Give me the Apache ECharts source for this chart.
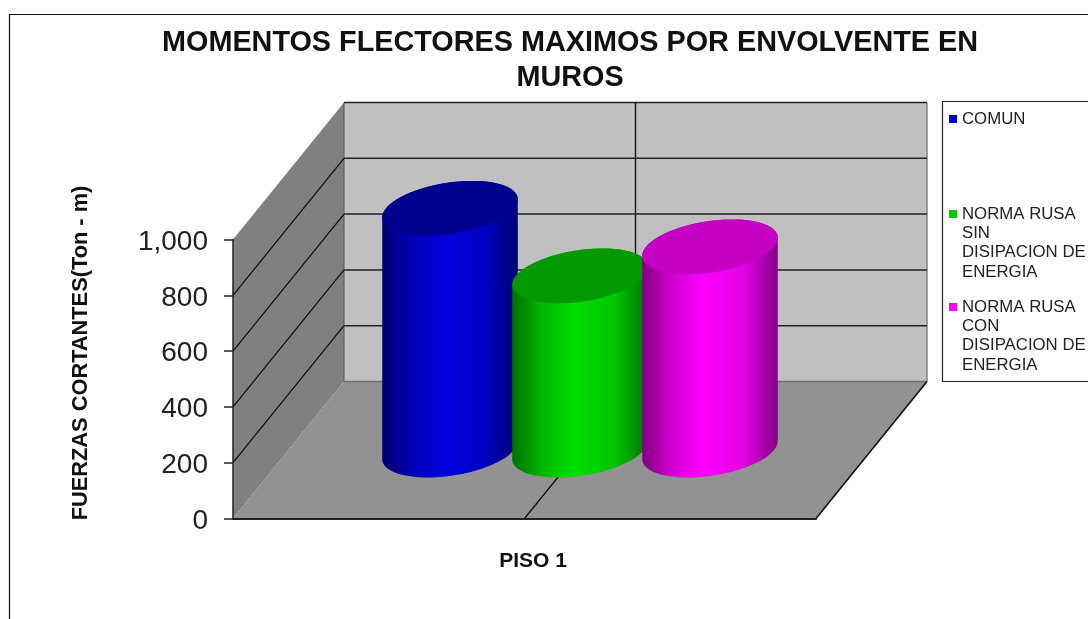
<!DOCTYPE html>
<html>
<head>
<meta charset="utf-8">
<style>html,body{margin:0;padding:0;background:#fff}#c{width:1088px;height:619px}</style>
<script src="https://cdn.jsdelivr.net/npm/echarts@6/dist/echarts.min.js"></script>
</head>
<body>
<div id="c"></div>
<script>
const categories = ['PISO 1'];
const yTicks = [0, 200, 400, 600, 800, 1000];
const comun = [866];
const sinDisipacion = [624];
const conDisipacion = [728];
const titleText = 'MOMENTOS FLECTORES MAXIMOS POR ENVOLVENTE EN\nMUROS';
const yAxisTitle = 'FUERZAS CORTANTES(Ton - m)';
const nameComun = 'COMUN';
const nameSin = 'NORMA RUSA\nSIN\nDISIPACION DE\nENERGIA';
const nameCon = 'NORMA RUSA\nCON\nDISIPACION DE\nENERGIA';

const FONT = '"Liberation Sans", Arial, sans-serif';
const DX = 111, DY = -137;           // depth of the 3D box
const CYL_A = 64, CYL_SX = 22.3, CYL_SY = 27.5, CYL_STEP = 130;

function renderWalls(params, api) {
  const cs = params.coordSys;
  const xL = cs.x, xR = cs.x + cs.width, xM = cs.x + cs.width / 2;
  const y0 = api.coord([0, yTicks[0]])[1];
  const yT = api.coord([0, yTicks[yTicks.length - 1]])[1];
  const kids = [];
  const poly = (pts, fill) => kids.push({type:'polygon', shape:{points:pts}, style:{fill:fill}});
  const line = (x1,y1,x2,y2,c,w) => kids.push({type:'line', shape:{x1,y1,x2,y2}, style:{stroke:c, lineWidth:w||1.3}});
  poly([[xL+DX,yT+DY],[xR+DX,yT+DY],[xR+DX,y0+DY],[xL+DX,y0+DY]], '#C0C0C0');
  poly([[xL,yT],[xL+DX,yT+DY],[xL+DX,y0+DY],[xL,y0]], '#808080');
  poly([[xL,y0],[xL+DX,y0+DY],[xR+DX,y0+DY],[xR,y0]], '#929292');
  line(xL+DX,yT+DY,xL+DX,y0+DY,'#555',1);
  line(xR+DX,yT+DY,xR+DX,y0+DY,'#808080',1.5);
  line(xL+DX,y0+DY,xR+DX,y0+DY,'#707070',1.5);
  line(xM+DX,yT+DY,xM+DX,y0+DY,'#111',1.4);
  line(xM,y0,xM+DX,y0+DY,'#111',1.3);
  line(xR,y0,xR+DX,y0+DY,'#111',1.6);
  yTicks.forEach(function(t){
    if (t === 0) return;
    const y = api.coord([0,t])[1];
    if (t !== yTicks[yTicks.length-1]) line(xL,y,xL+DX,y+DY,'#111',1.3);
    line(xL+DX,y+DY,xR+DX,y+DY,'#222',1.5);
  });
  return {type:'group', children:kids};
}

function shade(rgb, k){ return 'rgb(' + rgb.map(v=>Math.round(v*k)).join(',') + ')'; }

function makeCylinder(idx, body, top) {
  return function(params, api) {
    const base = api.coord([api.value(0), 0]);
    const head = api.coord([api.value(0), api.value(1)]);
    const cx = base[0] + DX/2 + (idx-1)*CYL_STEP;
    const by = base[1] + DY/2, ty = head[1] + DY/2;
    const tExt = Math.atan2(CYL_SX, CYL_A);
    const ext = Math.hypot(CYL_A, CYL_SX);
    const pt = (t, y) => [cx + CYL_A*Math.cos(t) + CYL_SX*Math.sin(t), y - CYL_SY*Math.sin(t)];
    const N = 48, bodyPts = [], topPts = [];
    for (let i=0;i<=N;i++){ const t = tExt - Math.PI*i/N; bodyPts.push(pt(t, by)); }
    for (let i=0;i<=N;i++){ const t = tExt - Math.PI - Math.PI*i/N; bodyPts.push(pt(t, ty)); }
    for (let i=0;i<2*N;i++){ topPts.push(pt(Math.PI*i/N, ty)); }
    const grad = new echarts.graphic.LinearGradient(cx-ext,0,cx+ext,0,[
      {offset:0, color:shade(body,.5)},{offset:.2, color:shade(body,.8)},
      {offset:.46, color:shade(body,1)},{offset:.76, color:shade(body,.88)},
      {offset:1, color:shade(body,.52)}], true);
    return {type:'group', children:[
      {type:'polygon', shape:{points:bodyPts}, style:{fill:grad}},
      {type:'polygon', shape:{points:topPts}, style:{fill:top}}
    ]};
  };
}

const LEGEND_LH = 19.3;
function legendAt(name, color, firstLineY, lines) {
  // the icon is centred on the text block: blank lines above keep it on the first line
  const blanks = lines - 1;
  return {data:[{name:name, itemStyle:{color:color}}], left:949,
    top:firstLineY - (blanks + 0.5) * LEGEND_LH, padding:0, orient:'vertical',
    icon:'rect', itemWidth:8, itemHeight:8, itemGap:0, selectedMode:false,
    formatter:function(n){ return '\n'.repeat(blanks) + n; },
    textStyle:{fontFamily:FONT, fontSize:16.8, color:'#222', lineHeight:LEGEND_LH}};
}

const chart = echarts.init(document.getElementById('c'), null, {renderer:'canvas'});
chart.setOption({
  animation:false,
  backgroundColor:'#fff',
  title:{text:titleText, left:565, top:21, textAlign:'center',
    textStyle:{fontFamily:FONT, fontSize:28.8, fontWeight:'bold', color:'#111', lineHeight:35}},
  grid:{left:233, width:583, top:239.5, height:279},
  legend:[
    legendAt(nameComun,'#0000CC',119,1),
    legendAt(nameSin,'#00CC00',214,4),
    legendAt(nameCon,'#FF00FF',307,4)
  ],
  xAxis:{type:'category', data:categories, z:6,
    axisLine:{lineStyle:{color:'#222', width:2}}, axisTick:{show:false},
    axisLabel:{fontFamily:FONT, fontSize:21, fontWeight:'bold', color:'#111', margin:32, padding:[0,0,0,17]}},
  yAxis:{type:'value', min:0, max:1000, interval:200, z:6,
    name:yAxisTitle, nameLocation:'middle', nameGap:141, nameRotate:90,
    nameTextStyle:{fontFamily:FONT, fontSize:21.8, fontWeight:'bold', color:'#111', padding:[0,0,0,52]},
    axisLine:{show:true, lineStyle:{color:'#222', width:1.5}},
    axisTick:{show:true, length:9, lineStyle:{color:'#222', width:1.5}},
    splitLine:{show:false},
    axisLabel:{margin:25,
      formatter:function(v){return '{n|' + v.toLocaleString('en-US') + '}';},
      rich:{n:{fontFamily:FONT, fontSize:28, color:'#222', padding:[5,0,0,0]}}}},
  graphic:[
    {type:'polyline', silent:true, z:-1, shape:{points:[[9.5,630],[9.5,14.5],[1100,14.5]]}, style:{fill:null, stroke:'#111', lineWidth:1.2}},
    {type:'rect', silent:true, z:-1, shape:{x:942.5,y:101.5,width:170,height:280}, style:{fill:'#fff', stroke:'#222', lineWidth:1.2}}
  ],
  series:[
    {type:'custom', name:'walls', silent:true, z:1, data:[[0]], renderItem:renderWalls, encode:{x:0}},
    {type:'custom', name:nameComun, z:2, data:comun.map((v,i)=>[i,v]), encode:{x:0,y:1}, itemStyle:{color:'#0000CC'},
      renderItem:makeCylinder(0,[0,0,222],'#000090')},
    {type:'custom', name:nameSin, z:3, data:sinDisipacion.map((v,i)=>[i,v]), encode:{x:0,y:1}, itemStyle:{color:'#00CC00'},
      renderItem:makeCylinder(1,[0,222,0],'#009900')},
    {type:'custom', name:nameCon, z:4, data:conDisipacion.map((v,i)=>[i,v]), encode:{x:0,y:1}, itemStyle:{color:'#FF00FF'},
      renderItem:makeCylinder(2,[255,0,255],'#C400C4')}
  ]
});
</script>
</body>
</html>
